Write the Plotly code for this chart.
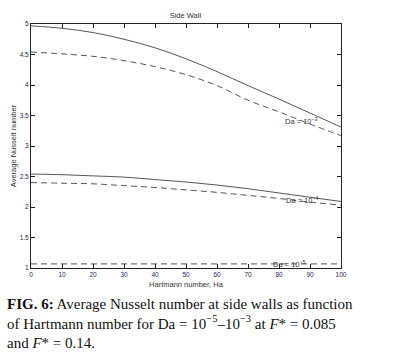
import plotly.graph_objects as go

ha = [0, 10, 20, 30, 40, 50, 60, 70, 80, 90, 100]
nu_da3_f1 = [4.97, 4.93, 4.86, 4.75, 4.61, 4.43, 4.22, 3.99, 3.77, 3.54, 3.31]
nu_da3_f2 = [4.54, 4.51, 4.47, 4.40, 4.30, 4.17, 3.99, 3.75, 3.56, 3.36, 3.17]
nu_da4_f1 = [2.54, 2.53, 2.51, 2.49, 2.45, 2.41, 2.36, 2.30, 2.23, 2.16, 2.09]
nu_da4_f2 = [2.40, 2.39, 2.38, 2.35, 2.32, 2.28, 2.24, 2.19, 2.14, 2.08, 2.03]
nu_da5_f2 = [1.067, 1.067, 1.067, 1.067, 1.067, 1.067, 1.067, 1.067, 1.067, 1.067, 1.067]

line_col = "#555555"
tick_col = "#1c2850"

fig = go.Figure()
fig.add_trace(go.Scatter(x=ha, y=nu_da3_f1, mode="lines", line=dict(color=line_col, width=1, shape="spline")))
fig.add_trace(go.Scatter(x=ha, y=nu_da3_f2, mode="lines", line=dict(color=line_col, width=1, dash="6px,4px", shape="spline")))
fig.add_trace(go.Scatter(x=ha, y=nu_da4_f1, mode="lines", line=dict(color=line_col, width=1, shape="spline")))
fig.add_trace(go.Scatter(x=ha, y=nu_da4_f2, mode="lines", line=dict(color=line_col, width=1, dash="6px,4px", shape="spline")))
fig.add_trace(go.Scatter(x=ha, y=nu_da5_f2, mode="lines", line=dict(color=line_col, width=1, dash="6px,4px")))

fs = 6.5
fig.update_layout(
    width=403, height=359,
    margin=dict(l=31, r=62, t=24, b=91, autoexpand=False),
    paper_bgcolor="white", plot_bgcolor="white",
    showlegend=False,
    font=dict(family="Liberation Sans, Arial, sans-serif", size=fs, color=tick_col),
    title=dict(text="Side Wall", x=0.46, xanchor="center", y=0.958, yanchor="middle",
               font=dict(size=7.5, color="#333333")),
)
fig.update_xaxes(range=[0, 100], tickvals=[0, 10, 20, 30, 40, 50, 60, 70, 80, 90, 100],
                 ticks="inside", ticklen=4, tickcolor="#222", mirror="ticks", showline=True,
                 linecolor="#222", linewidth=1, showgrid=False, zeroline=False, automargin=False,
                 tickfont=dict(size=fs, color=tick_col),
                 title=dict(text="Hartmann number, Ha", font=dict(size=7.5, color="#333333"), standoff=4))
fig.update_yaxes(range=[1, 5], tickvals=[1, 1.5, 2, 2.5, 3, 3.5, 4, 4.5, 5],
                 ticktext=["1", "1.5", "2", "2.5", "3", "3.5", "4", "4.5", "5"],
                 ticks="inside", ticklen=4, tickcolor="#222", mirror="ticks", showline=True,
                 linecolor="#222", linewidth=1, showgrid=False, zeroline=False, automargin=False,
                 tickfont=dict(size=fs, color=tick_col),
                 title=dict(text="Average Nusselt number", font=dict(size=7.5, color="#333333"), standoff=2))

for x, y, t in [(87.3, 3.41, "Da = 10<sup>−3</sup>"), (87.6, 2.11, "Da = 10<sup>−4</sup>"), (83.5, 1.065, "Da = 10<sup>−5</sup>")]:
    fig.add_annotation(x=x, y=y, text=t, showarrow=False, font=dict(size=7.5, color="#333333"))

cap_font = dict(family="Liberation Serif, Times New Roman, serif", size=15, color="#111111")
caption = ("<b>FIG. 6:</b> Average Nusselt number at side walls as function<br>"
           "of Hartmann number for Da = 10<sup>−5</sup>–10<sup>−3</sup> at <i>F</i>* = 0.085<br>"
           "and <i>F</i>* = 0.14.")
fig.add_annotation(xref="paper", yref="paper", x=-0.085, y=-0.229, xanchor="left", yanchor="middle",
                   text=caption, showarrow=False, font=cap_font, align="left")

fig.write_html("out.html", config={"displayModeBar": False},
               post_script="document.body.style.margin='0';")
